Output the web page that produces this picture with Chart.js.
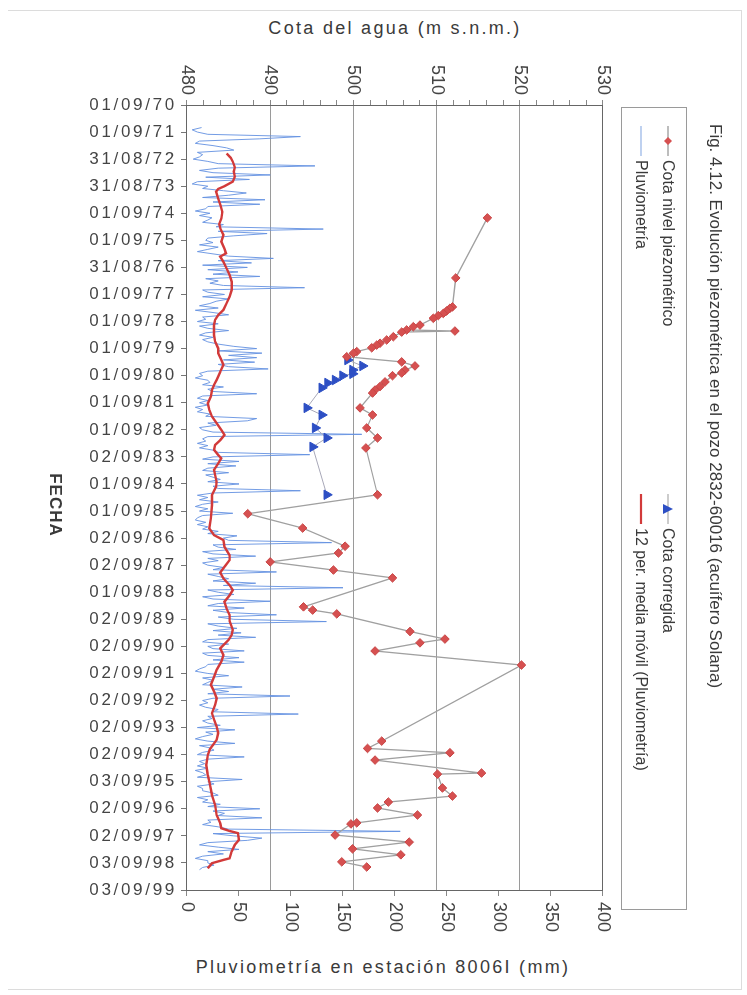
<!DOCTYPE html>
<html>
<head>
<meta charset="utf-8">
<script src="https://cdn.jsdelivr.net/npm/chart.js@4.4.1/dist/chart.umd.min.js"></script>
<style>
  html, body { margin: 0; padding: 0; background: #fff; }
  body { width: 747px; height: 995px; position: relative; overflow: hidden;
         font-family: "Liberation Sans", Arial, sans-serif; color: #3a3a3a; }
  /* the figure is printed sideways: draw it landscape and turn it a quarter clockwise */
  #rot { position: absolute; left: 0; top: 0; width: 995px; height: 747px;
         transform-origin: 0 0; transform: translate(747px, 0) rotate(90deg); }
  #chart { position: absolute; left: 0; top: 0; }
  #title { position: absolute; left: 124px; top: 22px; font-size: 17px; white-space: nowrap; }
  #legend { position: absolute; left: 107px; top: 60px; width: 803px; height: 66px;
            border: 1px solid #9a9a9a; box-sizing: border-box; font-size: 16px; }
  .item { position: absolute; display: flex; align-items: center; white-space: nowrap; height: 20px; }
  .item svg { margin-right: 4px; }
  #fecha { position: absolute; left: 455px; width: 100px; top: 682px; text-align: center;
           font-weight: bold; font-size: 17px; letter-spacing: 1px; }
  .axtitle { position: absolute; font-size: 18px; letter-spacing: 2.3px; text-align: center; white-space: nowrap; }
  #frame { position: absolute; left: 8px; top: 10px; width: 734px; height: 980px;
           border: 1px solid #dcdcdc; border-left: none; box-sizing: border-box; }
</style>
</head>
<body>
<div id="frame"></div>
<div class="axtitle" style="left:187px; width:416px; top:18px;">Cota del agua (m s.n.m.)</div>
<div class="axtitle" style="left:0px; width:766px; top:957px;">Pluviometría en estación 8006I (mm)</div>
<div id="rot">
  <canvas id="chart" width="995" height="747"></canvas>
  <div id="title">Fig. 4.12. Evolución piezométrica en el pozo 2832-60016 (acuífero Solana)</div>
  <div id="legend">
    <div class="item" style="left:18px; top:8px;">
      <svg width="30" height="12"><line x1="0" y1="6" x2="30" y2="6" stroke="#999" stroke-width="1.3"/><polygon points="15,2 19,6 15,10 11,6" fill="#d65050"/></svg>Cota nivel piezométrico</div>
    <div class="item" style="left:18px; top:35px;">
      <svg width="30" height="12"><line x1="0" y1="6" x2="30" y2="6" stroke="#7fa3e0" stroke-width="1"/></svg>Pluviometría</div>
    <div class="item" style="left:386px; top:8px;">
      <svg width="30" height="12"><line x1="0" y1="6" x2="30" y2="6" stroke="#999" stroke-width="1"/><polygon points="15,1 20,11 10,11" fill="#2d4fc4"/></svg>Cota corregida</div>
    <div class="item" style="left:386px; top:35px;">
      <svg width="30" height="12"><line x1="0" y1="6" x2="30" y2="6" stroke="#d23a3a" stroke-width="2.2"/></svg>12 per. media móvil (Pluviometría)</div>
  </div>
  <div id="fecha">FECHA</div>
</div>
<script>
// time axis: years counted from 01/09/70, one tick per year
const dateLabels = ['01/09/70', '01/09/71', '31/08/72', '31/08/73', '01/09/74', '01/09/75',
  '31/08/76', '01/09/77', '01/09/78', '01/09/79', '01/09/80', '01/09/81', '01/09/82',
  '02/09/83', '01/09/84', '01/09/85', '02/09/86', '02/09/87', '01/09/88', '02/09/89',
  '02/09/90', '02/09/91', '02/09/92', '02/09/93', '02/09/94', '03/09/95', '02/09/96',
  '02/09/97', '03/09/98', '03/09/99'];

// monthly rainfall (mm), from July 1971 to December 1998
const pluvioStartMonth = 10; // months after 01/09/70
const pluvio = [
  14, 5, 10, 20, 109, 70,                            // 1971 (jul-dic)
  12, 8, 25, 38, 45, 10, 15, 12, 6, 20, 30, 123,     // 1972
  30, 12, 25, 80, 18, 60, 10, 5, 20, 15, 35, 57,     // 1973
  40, 15, 75, 25, 70, 20, 18, 8, 22, 12, 24, 20,     // 1974
  15, 35, 28, 131, 30, 77, 45, 20, 18, 25, 12, 30,   // 1975
  20, 10, 25, 40, 83, 30, 62, 15, 58, 20, 49, 25,    // 1976
  70, 18, 30, 22, 35, 113, 15, 20, 36, 15, 40, 28,   // 1977
  22, 12, 30, 8, 25, 40, 15, 18, 10, 30, 12, 20,     // 1978
  40, 18, 12, 25, 15, 20, 30, 45, 67, 30, 72, 40,    // 1979
  67, 35, 65, 30, 40, 78, 20, 12, 15, 8, 20, 22,     // 1980
  15, 35, 20, 25, 67, 15, 10, 20, 12, 20, 8, 15,     // 1981
  10, 22, 18, 67, 58, 20, 28, 12, 15, 25, 168, 20,   // 1982
  15, 18, 10, 20, 12, 25, 30, 118, 25, 15, 50, 20,   // 1983
  47, 20, 15, 40, 18, 25, 32, 20, 50, 25, 30, 109,   // 1984
  25, 10, 20, 12, 30, 15, 8, 20, 12, 44, 15, 10,     // 1985
  8, 18, 10, 20, 15, 30, 20, 48, 35, 40, 139, 25,    // 1986
  30, 47, 15, 25, 66, 20, 30, 15, 20, 35, 25, 86,    // 1987
  20, 30, 40, 25, 66, 35, 150, 20, 30, 45, 15, 25,   // 1988
  80, 30, 20, 55, 25, 40, 86, 30, 45, 134, 20, 30,   // 1989
  48, 25, 52, 30, 66, 20, 15, 40, 20, 25, 55, 15,    // 1990
  20, 50, 25, 55, 20, 18, 12, 8, 20, 40, 15, 25,     // 1991
  20, 15, 53, 25, 40, 20, 99, 25, 15, 20, 12, 18,    // 1992
  30, 25, 107, 20, 24, 15, 20, 32, 10, 46, 18, 25,   // 1993
  15, 8, 20, 46, 12, 22, 26, 15, 10, 55, 20, 12,     // 1994
  17, 10, 20, 8, 15, 18, 10, 53, 20, 26, 10, 15,     // 1995
  15, 25, 30, 10, 20, 15, 32, 20, 70, 25, 36, 30,    // 1996
  72, 20, 23, 15, 30, 40, 205, 25, 45, 72, 58, 20,   // 1997
  12, 30, 50, 20, 35, 15, 8, 20, 20, 26, 15, 12      // 1998
];

// 12 month moving average (years since 01/09/70, mm)
const mediaT = [1.79, 1.95, 2.09, 2.3, 2.46, 2.65, 2.83, 3.0, 3.1, 3.2, 3.45, 3.69, 3.95, 4.19, 4.4,
  4.56, 4.8, 5.05, 5.3, 5.48, 5.6, 5.79, 6.03, 6.28, 6.53, 6.83, 7.08, 7.33, 7.57, 7.76, 7.94,
  8.13, 8.5, 8.74, 8.99, 9.17, 9.42, 9.6, 9.85, 10.16, 10.34, 10.53, 10.77, 11.02, 11.27, 11.51,
  11.76, 12.0, 12.19, 12.38, 12.56, 12.74, 12.93, 13.05, 13.24, 13.48, 13.67, 13.92, 14.1, 14.41,
  14.78, 15.27, 15.64, 15.89, 16.07, 16.32, 16.63, 16.81, 17.06, 17.27, 17.49, 17.74, 17.92,
  18.11, 18.35, 18.6, 18.84, 19.07, 19.39, 19.58, 19.76, 20.07, 20.32, 20.56, 20.87, 21.12,
  21.42, 21.67, 21.92, 22.16, 22.47, 22.71, 22.96, 23.2, 23.45, 23.64, 23.8, 24.01, 24.38,
  24.75, 25.0, 25.49, 25.86, 26.23, 26.54, 26.72, 26.82, 26.9, 27.15, 27.33, 27.58, 27.83,
  27.89, 28.01, 28.2];
const mediaVal = [38, 42, 44, 46, 45, 46, 44, 36, 30, 28, 30, 32, 34, 33, 31,
  32, 35, 33, 36, 37.5, 32, 35, 38, 41, 43, 43, 41, 38, 35, 30, 27,
  26, 26, 27, 30, 30, 33, 35, 32, 28.5, 26, 24, 23, 20, 21.5, 24,
  28.5, 33, 36, 32, 27, 26, 30, 33, 30, 26, 27, 28.5, 28, 24,
  24, 23, 21.5, 26, 35, 36, 41, 41, 36, 32, 35, 41, 44,
  41, 36, 38, 41, 41, 44, 43, 40, 32, 35, 33, 28.5, 26,
  23, 26, 28.5, 27, 24, 26, 28.5, 30, 28.5, 25, 22, 20, 18.5,
  20, 21.5, 24, 27, 28.5, 32, 33, 41, 49, 50, 46, 43, 41,
  35, 24, 20];

// piezometric level (m s.n.m.)
const cotaT = [4.17, 6.39, 7.46, 7.51, 7.61, 7.70, 7.78, 7.88, 8.13, 8.19, 8.31, 8.35, 8.39,
  8.56, 8.68, 8.80, 8.87, 8.97, 9.11, 9.17, 9.30, 9.49, 9.64, 9.79, 9.90, 10.0, 10.23, 10.40,
  10.53, 10.64, 11.19, 11.45, 11.93, 12.30, 12.67, 14.40, 15.10, 15.63, 16.30, 16.55, 16.88,
  17.18, 17.47, 18.54, 18.66, 18.80, 19.45, 19.73, 19.87, 20.17, 20.69, 23.50, 23.77, 23.93,
  24.20, 24.68, 24.72, 25.23, 25.53, 25.75, 25.97, 26.23, 26.52, 26.56, 26.97, 27.23, 27.48,
  27.70, 27.96, 28.15];
const cotaVal = [516.1, 512.3, 511.9, 511.6, 511.2, 510.8, 510.2, 509.6, 508.0, 507.2, 506.4, 512.2, 505.8,
  504.8, 504.0, 503.2, 502.8, 502.2, 500.4, 500.0, 499.2, 505.8, 507.4, 506.2, 505.8, 504.7, 503.8, 503.2,
  502.6, 502.3, 500.8, 502.3, 501.6, 502.9, 501.5, 502.9, 487.3, 493.9, 499.0, 498.2, 490.0,
  497.6, 504.7, 494.0, 495.1, 498.0, 506.8, 511.0, 508.0, 502.6, 520.2, 503.4, 501.7, 511.6,
  502.6, 515.4, 510.1, 510.7, 511.9, 504.2, 502.9, 507.7, 500.4, 499.7, 497.8, 506.7, 499.9,
  505.7, 498.6, 501.6];

// corrected level (m s.n.m.)
const corrT = [9.42, 9.64, 9.79, 9.93, 10.0, 10.16, 10.27, 10.45, 11.19, 11.45, 11.93, 12.30, 12.63, 14.40];
const corrVal = [499.3, 501.1, 499.9, 499.9, 498.7, 497.8, 496.9, 496.2, 494.4, 496.2, 495.4, 496.8, 495.1, 496.8];

const toPoints = (ts, vs) => ts.map((t, i) => ({ x: t, y: vs[i] }));
const pluvioPoints = pluvio.map((v, i) => ({ x: (pluvioStartMonth + i) / 12, y: v }));

const fontFam = '"Liberation Sans", Arial, sans-serif';

// date labels in the scan are widely spaced
const spacedDates = {
  id: 'spacedDates',
  beforeDraw(chart) {
    const sc = chart.scales.x;
    if (sc._spaced) return;
    const orig = sc.drawLabels.bind(sc);
    sc.drawLabels = function (area) {
      const c = this.ctx;
      c.save();
      c.letterSpacing = '2.7px';
      orig(area);
      c.restore();
    };
    sc._spaced = true;
  }
};

new Chart(document.getElementById('chart'), {
  type: 'line',
  data: {
    datasets: [
      {
        label: 'Pluviometría',
        data: pluvioPoints,
        yAxisID: 'yPluv',
        borderColor: 'rgba(100, 145, 225, 0.9)',
        borderWidth: 1,
        pointRadius: 0,
        order: 4
      },
      {
        label: '12 per. media móvil (Pluviometría)',
        data: toPoints(mediaT, mediaVal),
        yAxisID: 'yPluv',
        borderColor: '#d23a3a',
        borderWidth: 2.4,
        pointRadius: 0,
        order: 3
      },
      {
        label: 'Cota nivel piezométrico',
        data: toPoints(cotaT, cotaVal),
        yAxisID: 'yCota',
        borderColor: '#a0a0a0',
        borderWidth: 1.3,
        pointStyle: 'rectRot',
        pointRadius: 4.3,
        pointBackgroundColor: '#d65050',
        pointBorderColor: '#c84545',
        pointBorderWidth: 1,
        order: 1
      },
      {
        label: 'Cota corregida',
        data: toPoints(corrT, corrVal),
        yAxisID: 'yCota',
        borderColor: '#a8a8b8',
        borderWidth: 1,
        pointStyle: 'triangle',
        pointRadius: 5.5,
        pointBackgroundColor: '#2d4fc4',
        pointBorderColor: '#2d4fc4',
        order: 2
      }
    ]
  },
  options: {
    responsive: false,
    animation: false,
    layout: { padding: { top: 144, left: 0, right: 0, bottom: 0 } },
    plugins: {
      legend: { display: false },
      title: { display: false },
      tooltip: { enabled: false }
    },
    scales: {
      x: {
        type: 'linear',
        position: 'bottom',
        min: 0,
        max: 29,
        ticks: {
          stepSize: 1,
          autoSkip: false,
          minRotation: 90,
          maxRotation: 90,
          padding: 4,
          color: '#444',
          font: { family: fontFam, size: 17 },
          callback: v => dateLabels[Math.round(v)]
        },
        grid: { drawOnChartArea: false, tickLength: 6, color: '#777' },
        border: { color: '#666' },
        afterFit: s => { s.height = 187; }
      },
      xTop: {
        type: 'linear',
        position: 'top',
        min: 0,
        max: 29,
        ticks: { display: false },
        grid: { display: false },
        border: { display: true, color: '#666' },
        afterFit: s => { s.height = 0; }
      },
      yCota: {
        position: 'left',
        min: 480,
        max: 530,
        ticks: {
          stepSize: 2,
          autoSkip: false,
          padding: 5,
          color: '#444',
          font: { family: fontFam, size: 18 },
          callback: v => (v % 10 === 0 ? v : '')
        },
        grid: {
          tickLength: 5,
          color: c => (c.tick && c.tick.value % 10 === 0 ? '#9a9a9a' : 'rgba(0,0,0,0)'),
          tickColor: '#888'
        },
        border: { color: '#666' },
        afterFit: s => { s.width = 105; }
      },
      yPluv: {
        position: 'right',
        min: 0,
        max: 400,
        ticks: {
          stepSize: 50,
          padding: 6,
          color: '#444',
          font: { family: fontFam, size: 18 }
        },
        grid: { drawOnChartArea: false, tickLength: 6, color: '#888' },
        border: { color: '#666' },
        afterFit: s => { s.width = 105; }
      }
    }
  },
  plugins: [spacedDates]
});
</script>
</body>
</html>
